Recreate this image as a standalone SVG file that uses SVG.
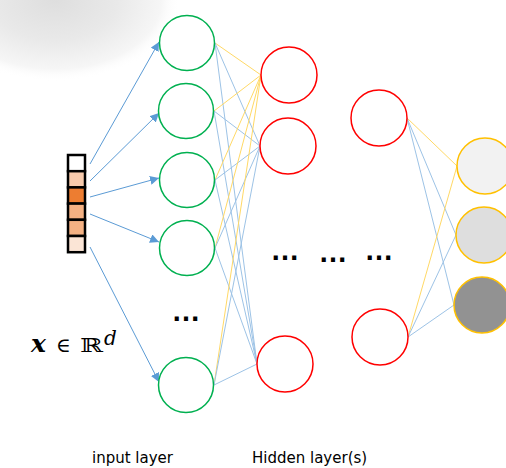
<svg xmlns="http://www.w3.org/2000/svg" width="506" height="468" viewBox="0 0 506 468">
<defs>
<radialGradient id="shade" cx="55" cy="0" r="125" gradientUnits="userSpaceOnUse" gradientTransform="translate(55 0) scale(1 0.65) translate(-55 0)">
<stop offset="0" stop-color="#dedede"/>
<stop offset="0.5" stop-color="#e9e9e9"/>
<stop offset="0.85" stop-color="#f6f6f6"/>
<stop offset="1" stop-color="#ffffff" stop-opacity="0"/>
</radialGradient>
<marker id="ah" viewBox="0 0 10 10" refX="10" refY="5" markerWidth="9" markerHeight="9" markerUnits="userSpaceOnUse" orient="auto">
<path d="M0,0 L10,5 L0,10 z" fill="#5B9BD5"/>
</marker>
<style>
.in{fill:#fff;stroke:#00B050;stroke-width:1.5}
.hd{fill:#fff;stroke:#FF0000;stroke-width:1.5}
.out{stroke:#FFC000;stroke-width:1.5}
.cell{stroke:#000;stroke-width:2.5}
.arr{stroke:#5B9BD5;stroke-width:1;fill:none;marker-end:url(#ah)}
.b{stroke:#9DC3E6;stroke-width:1}
.y{stroke:#FFD966;stroke-width:1}
.lbl{font-family:"DejaVu Sans",sans-serif;font-size:15px;fill:#000}
.dots{font-family:"Liberation Sans",Arial,sans-serif;font-weight:bold;font-size:29px;fill:#000}
.math{font-family:"DejaVu Serif",serif;fill:#000}
</style>
</defs>
<rect x="0" y="0" width="506" height="468" fill="#fff"/>
<rect x="0" y="0" width="200" height="110" fill="url(#shade)"/>

<g id="connectors">
<line class="y" x1="215" y1="43" x2="261" y2="75"/>
<line class="b" x1="215" y1="43" x2="260" y2="146"/>
<line class="b" x1="215" y1="43" x2="257" y2="364"/>
<line class="y" x1="214" y1="111" x2="261" y2="75"/>
<line class="b" x1="214" y1="111" x2="260" y2="146"/>
<line class="b" x1="214" y1="111" x2="257" y2="364"/>
<line class="y" x1="215" y1="180" x2="261" y2="75"/>
<line class="b" x1="215" y1="180" x2="260" y2="146"/>
<line class="b" x1="215" y1="180" x2="257" y2="364"/>
<line class="y" x1="215" y1="248" x2="261" y2="75"/>
<line class="b" x1="215" y1="248" x2="260" y2="146"/>
<line class="b" x1="215" y1="248" x2="257" y2="364"/>
<line class="y" x1="214" y1="385" x2="261" y2="75"/>
<line class="b" x1="214" y1="385" x2="260" y2="146"/>
<line class="b" x1="214" y1="385" x2="257" y2="364"/>
<line class="y" x1="407" y1="118" x2="457" y2="166"/>
<line class="b" x1="407" y1="118" x2="456" y2="235"/>
<line class="b" x1="407" y1="118" x2="454" y2="305"/>
<line class="y" x1="408" y1="337" x2="457" y2="166"/>
<line class="b" x1="408" y1="337" x2="456" y2="235"/>
<line class="b" x1="408" y1="337" x2="454" y2="305"/>
<line class="arr" x1="90" y1="164" x2="159" y2="42"/>
<line class="arr" x1="90" y1="181" x2="159" y2="113"/>
<line class="arr" x1="90" y1="197" x2="159" y2="178"/>
<line class="arr" x1="90" y1="214" x2="159" y2="242"/>
<line class="arr" x1="90" y1="247" x2="159" y2="382"/>
</g>

<g id="input-vector">
<rect class="cell" x="68" y="155" width="17" height="16.2" fill="#FFFFFF"/>
<rect class="cell" x="68" y="171.2" width="17" height="16.2" fill="#F8CBAD"/>
<rect class="cell" x="68" y="187.4" width="17" height="16.2" fill="#ED7D31"/>
<rect class="cell" x="68" y="203.6" width="17" height="16.2" fill="#F4B183"/>
<rect class="cell" x="68" y="219.8" width="17" height="16.2" fill="#F4B183"/>
<rect class="cell" x="68" y="236" width="17" height="16.2" fill="#FBE5D6"/>
</g>

<g id="input-1"><circle class="in" cx="187" cy="43" r="27.5"/></g>
<g id="input-2"><circle class="in" cx="186" cy="111" r="27.5"/></g>
<g id="input-3"><circle class="in" cx="187" cy="180" r="27.5"/></g>
<g id="input-4"><circle class="in" cx="187" cy="248" r="27.5"/></g>
<g id="input-5"><circle class="in" cx="186" cy="385" r="27.5"/></g>

<g id="hidden-1"><circle class="hd" cx="289" cy="75" r="28"/></g>
<g id="hidden-2"><circle class="hd" cx="288" cy="146" r="28"/></g>
<g id="hidden-3"><circle class="hd" cx="285" cy="364" r="28"/></g>
<g id="hidden-4"><circle class="hd" cx="379" cy="118" r="28"/></g>
<g id="hidden-5"><circle class="hd" cx="380" cy="337" r="28"/></g>

<g id="output-1"><circle class="out" cx="485" cy="166" r="28" fill="#F2F2F2"/></g>
<g id="output-2"><circle class="out" cx="484" cy="235" r="28" fill="#DEDEDE"/></g>
<g id="output-3"><circle class="out" cx="482" cy="305" r="28" fill="#929292"/></g>

<g id="ellipses">
<text class="dots" x="186" y="321" text-anchor="middle">…</text>
<text class="dots" x="285" y="260" text-anchor="middle">…</text>
<text class="dots" x="333" y="262" text-anchor="middle">…</text>
<text class="dots" x="379" y="260" text-anchor="middle">…</text>
</g>

<g id="math-label">
<text class="math" x="31" y="352" font-size="25" font-weight="bold" font-style="italic">x</text>
<text class="math" x="56" y="352" font-size="20">∈</text>
<text class="math" x="80" y="352" font-size="19" textLength="23" lengthAdjust="spacingAndGlyphs">ℝ</text>
<text class="math" x="104" y="345" font-size="20" font-style="italic">d</text>
</g>

<g id="labels">
<text class="lbl" x="92" y="463">input layer</text>
<text class="lbl" x="252" y="463">Hidden layer(s)</text>
</g>
</svg>
